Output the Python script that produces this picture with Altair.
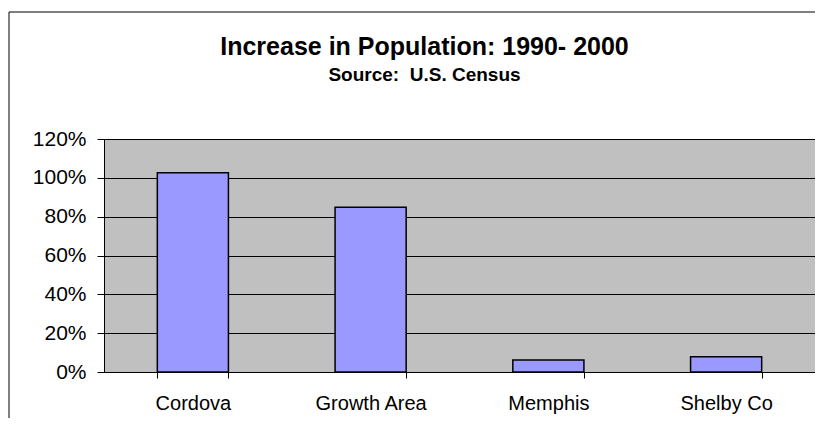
import altair as alt
import pandas as pd

categories = ["Cordova", "Growth Area", "Memphis", "Shelby Co"]
increase = [1.026, 0.848, 0.062, 0.079]
y_ticks = [0, 0.2, 0.4, 0.6, 0.8, 1.0, 1.2]

df = pd.DataFrame({"area": categories, "increase": increase})
frame_df = pd.DataFrame({"k": [0]})

FONT = "Liberation Sans"

bars = alt.Chart(df).mark_bar(
    color="#9999FF", stroke="#000000", strokeWidth=1.5
).encode(
    x=alt.X(
        "area:N",
        sort=categories,
        scale=alt.Scale(paddingInner=0.6, paddingOuter=0.3),
        axis=alt.Axis(
            title=None, labelAngle=0, grid=False, tickBand="extent",
            tickSize=6, tickColor="#000000", domainColor="#000000",
            labelFont=FONT, labelFontSize=20, labelColor="#000000",
            labelPadding=15,
        ),
    ),
    y=alt.Y(
        "increase:Q",
        scale=alt.Scale(domain=[0, 1.2], nice=False),
        axis=alt.Axis(
            title=None, values=y_ticks, format=".0%", grid=True,
            gridColor="#000000", gridWidth=1, gridOpacity=1,
            tickSize=7, tickColor="#000000", domainColor="#000000",
            labelFont=FONT, labelFontSize=21, labelColor="#000000",
            labelPadding=11,
        ),
    ),
)

frame = alt.Chart(frame_df).mark_rect(
    fill="transparent", stroke="#000000", strokeWidth=1
).encode(
    x=alt.value(-95), x2=alt.value(800),
    y=alt.value(-127), y2=alt.value(400),
)

chart = alt.layer(frame, bars).properties(
    width=711,
    height=233,
    background="#FFFFFF",
    autosize=alt.AutoSizeParams(type="none"),
    padding={"left": 96, "top": 131, "right": 0, "bottom": 46},
    title=alt.TitleParams(
        text="Increase in Population: 1990- 2000",
        subtitle="Source:\u00a0 U.S. Census",
        anchor="middle",
        dx=-35,
        offset=-73,
        font=FONT, fontSize=25, fontWeight="bold", color="#000000",
        subtitleFont=FONT, subtitleFontSize=19, subtitleFontWeight="bold",
        subtitleColor="#000000", subtitlePadding=6,
    ),
).configure_view(
    fill="#C0C0C0", stroke="#808080", strokeWidth=1
)

chart.save("out.html", embed_options={"renderer": "svg", "actions": False})
